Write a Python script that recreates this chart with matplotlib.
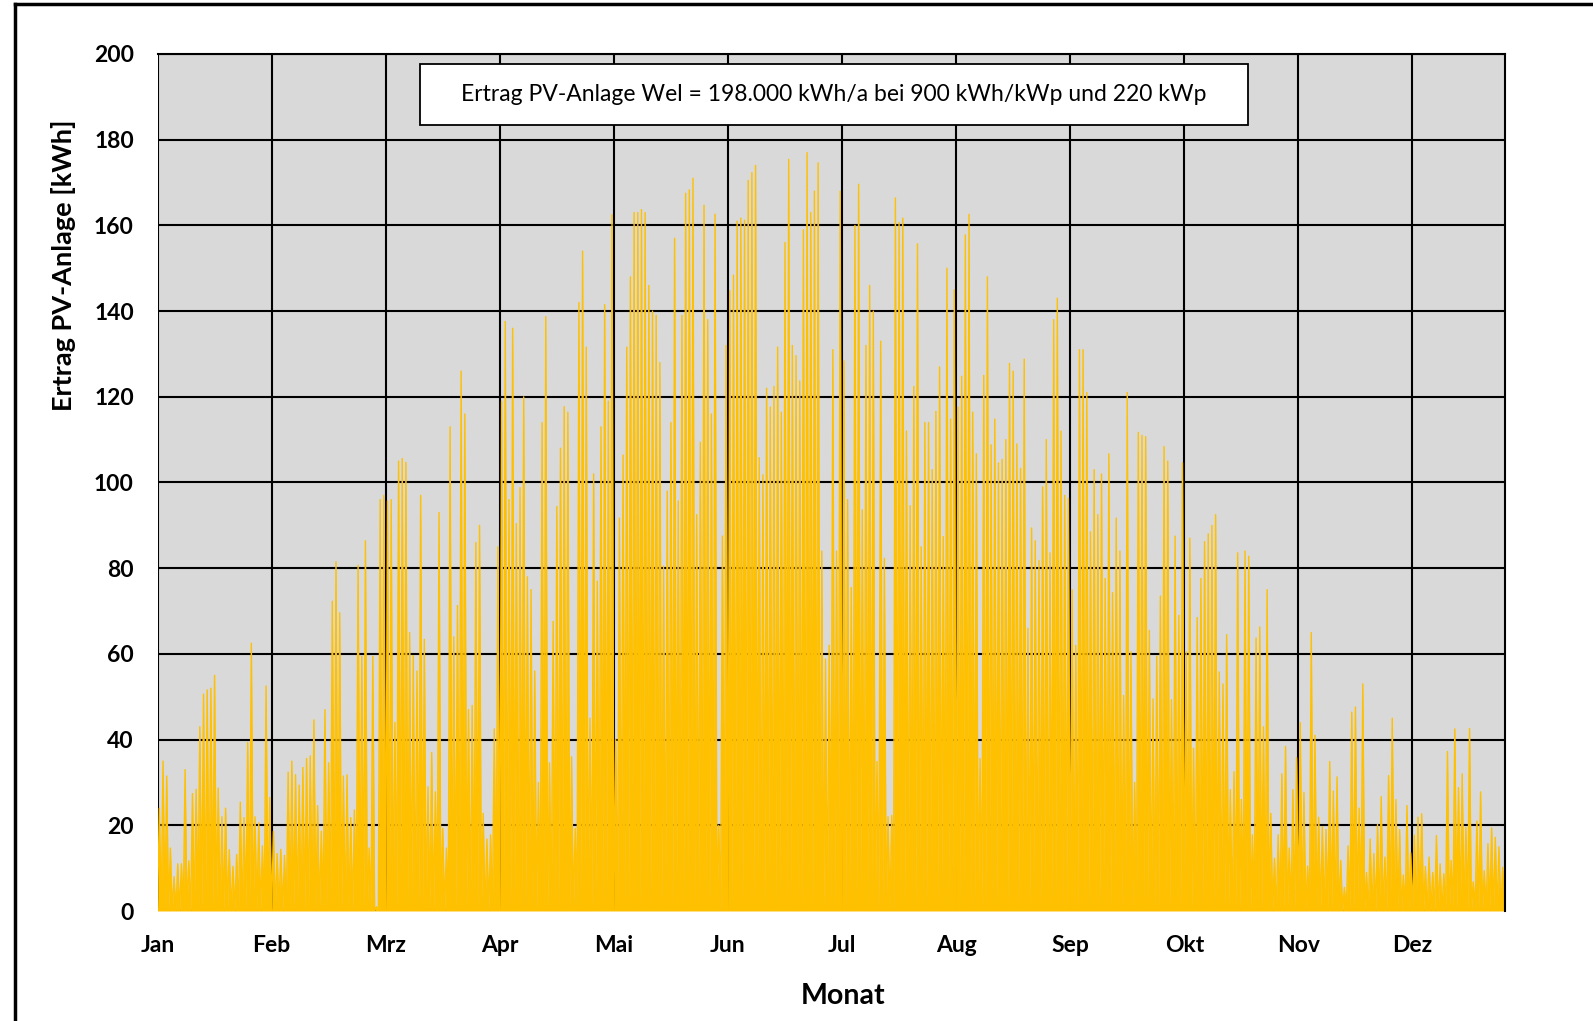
import numpy as np
import matplotlib
matplotlib.use('Agg')
import matplotlib.pyplot as plt
from matplotlib.patches import Rectangle
from matplotlib.lines import Line2D

# daily peak of the hourly PV yield [kWh] (day 0 = 1 Jan)
peaks_jan_feb = [24, 35, 31.5, 14.7, 8, 11, 11, 33, 11.7, 27.4, 28.4, 43, 50.6, 51.6, 52, 55,
                 28.7, 22, 24, 14.3, 10.4, 13.2, 25.4, 21.8, 39.3, 62.5, 22, 20.6, 15.2, 52.5,
                 26.5, 18.6, 13.4, 14.4, 13, 32.4, 35, 31.8, 29.4, 33.5, 35.6, 36.2, 44.6, 24.6,
                 18.6, 47, 34.6, 72.3, 81.5, 69.6, 31.5, 31.8, 21.8, 23.6, 80.7, 59.5, 86.4, 14.7,
                 59.5, 1]
peaks_mar_apr = [96, 97, 95.7, 96, 44, 105, 105.6, 104.7, 65, 59.6, 56, 97, 63.4, 29, 37, 27.8,
                 93, 19.3, 14.7, 113, 64, 71.3, 126, 116, 47, 48, 86, 90, 22.8, 16.8, 17.8, 42.5,
                 85, 119, 137.6, 96, 136, 90.4, 98.8, 120, 78, 75, 56, 30, 114, 138.7, 34.6, 67.6,
                 94.4, 108, 117.7, 116.4, 36, 19.3, 142, 154, 131.6, 45, 102, 77, 113]
peaks_may_jun = [141.5, 119, 162.5, 40, 91.7, 106.4, 131.6, 148, 163, 163, 163.7, 163, 146, 140,
                 139, 128, 80.5, 98, 114, 157, 95.7, 139, 167.5, 168.3, 171, 92.5, 109.4, 164.7,
                 138, 116, 162.6, 20, 87.5, 132, 144.8, 148.4, 161, 161.7, 161.2, 170.5, 172.3,
                 174, 105.8, 101.8, 122, 117.6, 122.4, 131.6, 116.4, 156, 175.4, 132, 129.6,
                 123.7, 159, 177, 163, 168, 174.6]
peaks_jul_aug = [84, 58.8, 62, 131, 84, 168, 128.4, 96, 75.5, 160, 169.6, 93.6, 132, 146, 140,
                 34.9, 133, 82.3, 22, 22.3, 166.4, 160.7, 161.7, 112, 94.6, 122.4, 155.7, 85, 114,
                 114, 103, 116.6, 127, 87.4, 150, 114.8, 145, 117.6, 124.8, 157.8, 162.6, 116.4,
                 106.7, 35.6, 125, 148, 108.8, 114.8, 104.6, 105.4, 110, 127.8, 126, 109, 103.3,
                 128.8, 66, 89.4, 86.4, 81.8]
peaks_sep_okt = [99, 110, 83.6, 138, 143, 112, 97, 96.3, 75, 62, 131, 131, 121, 88.5, 103, 92.5,
                 102, 77.6, 106.7, 74.3, 91.7, 84, 50.3, 121, 60.5, 30, 111.7, 111, 110.7, 65.5,
                 49.5, 59.5, 73.5, 108.4, 105, 49.3, 87.5, 69, 104.6, 60.5, 87, 38, 68.5, 77.6,
                 86.2, 88, 90, 92.5, 55.8, 53, 64.5, 28.3, 32.5, 83.6, 26, 84, 82.8, 17.8, 63.7,
                 66.3]
peaks_nov_dez = [43, 75, 22.8, 12.3, 17.8, 32, 38.4, 14.7, 28.3, 35.8, 44, 27.7, 10.5, 65, 41,
                 21.9, 19.7, 19, 34.9, 28, 31.3, 11.8, 5.5, 15.2, 46.4, 47.6, 24, 53, 9, 16.8,
                 13.4, 20.2, 26.7, 12.6, 31.6, 45, 26, 19, 8.4, 24.6, 13.6, 17.7, 21.9, 22.7, 10.4,
                 12.6, 9, 17.6, 11, 8.7, 37.2, 11.8, 42.5, 28.8, 32, 19.5, 42.6, 6.8, 21, 27.8,
                 9.4, 15.7, 19.4, 17.2, 15, 10.2]

months = ['Jan', 'Feb', 'Mrz', 'Apr', 'Mai', 'Jun', 'Jul', 'Aug', 'Sep', 'Okt', 'Nov', 'Dez']
hours_per_tick = 744
y_ticks = [0, 20, 40, 60, 80, 100, 120, 140, 160, 180, 200]
info_text = 'Ertrag PV-Anlage Wel = 198.000 kWh/a bei 900 kWh/kWp und 220 kWp'

peaks = np.array(peaks_jan_feb + peaks_mar_apr + peaks_may_jun +
                 peaks_jul_aug + peaks_sep_okt + peaks_nov_dez, dtype=float)

# zero at midnight, daily peak at noon
hours = np.arange(0, 24 * len(peaks) + 1, 12)
yield_kwh = np.zeros(len(hours))
yield_kwh[1::2] = peaks

W, H = 1593, 1021
fig = plt.figure(figsize=(W / 100, H / 100), dpi=100)
ax = fig.add_axes([157.5 / W, 1 - 911 / H, 1347 / W, 857 / H])
ax.set_facecolor('#D9D9D9')

gold = '#FFC000'
ax.fill_between(hours, yield_kwh, color=gold, lw=0, zorder=2)
ax.plot(hours, yield_kwh, color=gold, lw=1.0, zorder=2)

ax.set_xlim(0, hours[-1])
ax.set_ylim(0, 200)
ax.set_xticks(np.arange(len(months)) * hours_per_tick)
ax.set_xticklabels(months)
ax.set_yticks(y_ticks)
ax.grid(True, color='black', lw=1.5)
ax.set_axisbelow(True)
ax.tick_params(length=0)
ax.tick_params(axis='x', pad=17.5)
ax.tick_params(axis='y', pad=17)
for lab in ax.get_xticklabels() + ax.get_yticklabels():
    lab.set_fontfamily('Lato')
    lab.set_fontweight('bold')
    lab.set_fontsize(16.5)

for side in ['left', 'bottom']:
    ax.spines[side].set_visible(False)
for side in ['top', 'right']:
    ax.spines[side].set_color('black')
    ax.spines[side].set_linewidth(1.5)

# info box
box = Rectangle((0.195, 0.917), 0.6146, 0.071, transform=ax.transAxes,
                facecolor='white', edgecolor='black', lw=1.3, zorder=5)
ax.add_patch(box)
ax.text(0.502, 0.9525, info_text, transform=ax.transAxes, ha='center', va='center',
        fontfamily='Lato', fontsize=16.5, zorder=6)

fig.text(843 / W, 1 - 996 / H, 'Monat', ha='center', va='center',
         fontfamily='Lato', fontweight='bold', fontsize=20.5)
fig.text(63 / W, 1 - 265 / H, 'Ertrag PV-Anlage [kWh]', ha='center', va='center',
         rotation=90, fontfamily='Lato', fontweight='bold', fontsize=19.5)

# outer chart frame (cut at right and bottom)
fig.add_artist(Line2D([14.5 / W, 1.0], [1 - 4.5 / H, 1 - 4.5 / H], transform=fig.transFigure,
                      color='black', lw=2.5))
fig.add_artist(Line2D([14.5 / W, 14.5 / W], [0.0, 1 - 4.5 / H], transform=fig.transFigure,
                      color='black', lw=2.5))

fig.savefig('out.png', dpi=100)
